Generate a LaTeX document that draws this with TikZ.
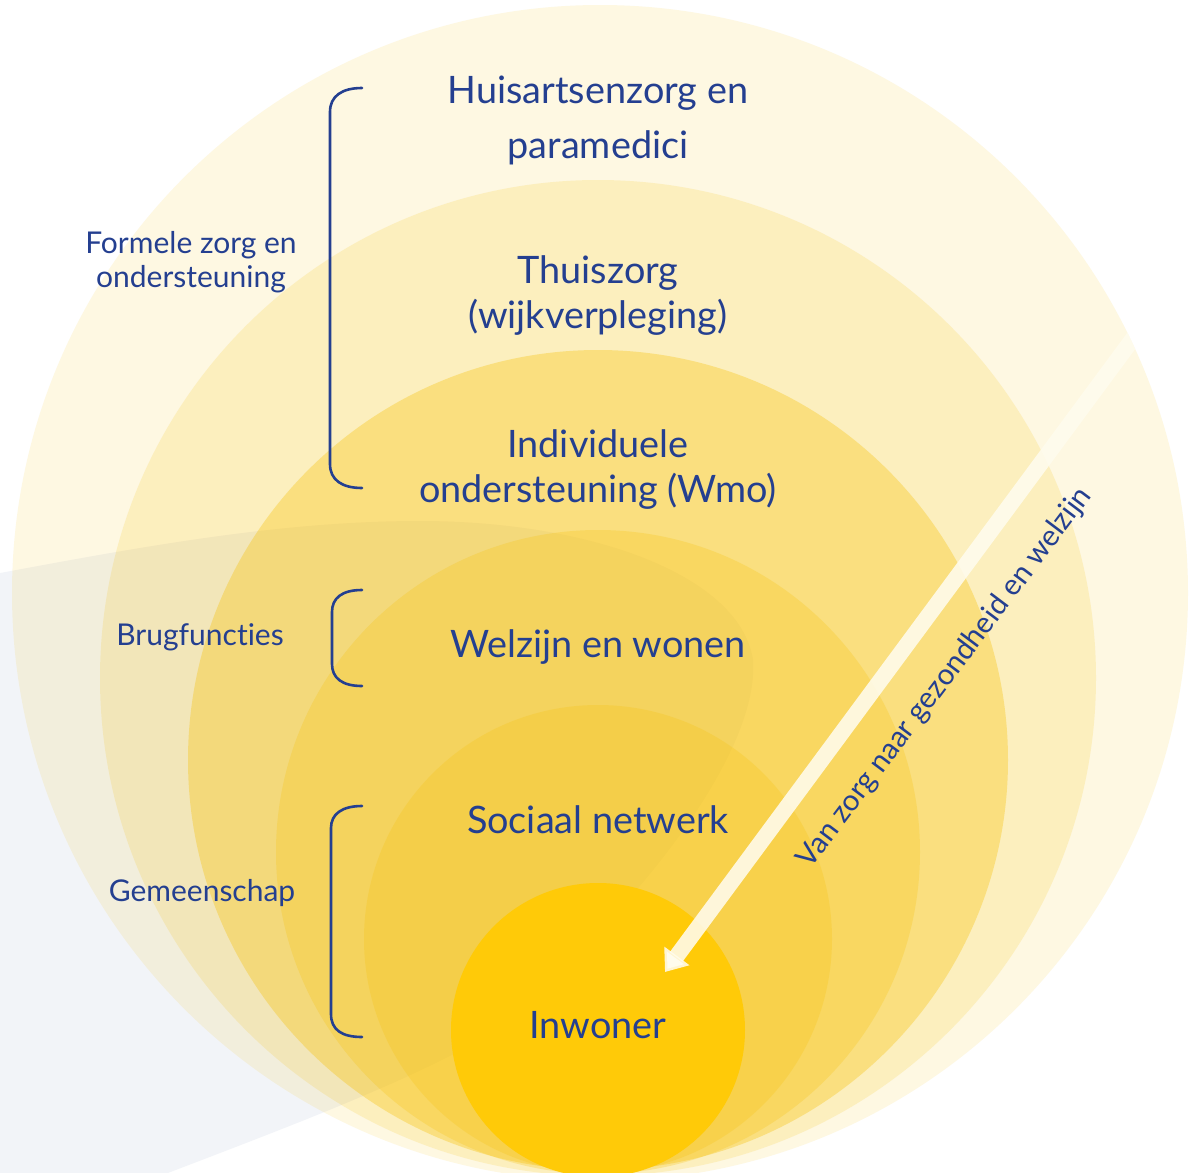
\documentclass[tikz,border=0pt]{standalone}
\usepackage{fontspec}
\setmainfont{Lato}[Ligatures={NoCommon,NoRequired,NoContextual}]
\usetikzlibrary{arrows.meta}
\definecolor{txt}{HTML}{243F90}
\definecolor{yel}{RGB}{247,194,8}
\definecolor{cF}{HTML}{FFCA08}
\definecolor{greyc}{HTML}{F2F4F8}
\definecolor{stripe}{HTML}{FFFCEE}
\tikzset{
  maintext/.style={text=txt, font=\fontsize{18.9}{23}\selectfont, anchor=base, inner sep=0pt},
  sidetext/.style={text=txt, font=\fontsize{15}{18}\selectfont, anchor=base, inner sep=0pt},
  bracket/.style={draw=txt, line width=1.3pt, line cap=round},
  ring/.style={fill=yel, fill opacity=#1},
  flowarrow/.style={draw=stripe, draw opacity=0.88, line width=8pt, -{Triangle[length=10pt,width=15pt]}}
}
\begin{document}
\begin{tikzpicture}[x=0.5pt,y=-0.5pt]
\useasboundingbox (0,0) rectangle (1190,1173);
\clip (0,0) rectangle (1190,1173);
\fill[white] (0,0) rectangle (1190,1173);
% grey background shape
\path[fill=greyc] (-5,574) .. controls (140,547) and (280,521) .. (420,521)
  .. controls (590,521) and (740,575) .. (753,660)
  .. controls (760,760) and (620,930) .. (480,1040)
  .. controls (400,1085) and (280,1130) .. (160,1176) -- (-5,1176) -- cycle;
% circles
\fill[ring=0.113] (600,593) circle[radius=588];
\fill[ring=0.164] (598,678) circle[radius=498];
\fill[ring=0.344] (598,760) circle[radius=410];
\fill[ring=0.25] (598,852) circle[radius=322];
\fill[ring=0.244] (598,939) circle[radius=234];
\fill[cF] (598,1030) circle[radius=147];
% arrow
\coordinate (arrS) at (1160,302);
\coordinate (arrE) at (665,972);
\begin{scope}
\clip (600,593) circle[radius=588];
\draw[flowarrow] (arrS) -- (arrE);
\end{scope}
\node[sidetext, anchor=center, rotate=53] (flow) at (945,678) {\fontsize{14.7}{18}\selectfont Van zorg naar gezondheid en welzijn};
% main texts
\node[maintext] (h1) at (598,103) {Huisartsenzorg en};
\node[maintext] (h2) at (598,158) {paramedici};
\node[maintext] (t1) at (598,283) {Thuiszorg};
\node[maintext] (t2) at (598,328) {(wijkverpleging)};
\node[maintext] (i1) at (598,457) {Individuele};
\node[maintext] (i2) at (598,502) {ondersteuning (Wmo)};
\node[maintext] (w1) at (598,657) {Welzijn en wonen};
\node[maintext] (s1) at (598,833) {Sociaal netwerk};
\node[maintext] (in) at (598,1038) {Inwoner};
% side labels
\node[sidetext] (f1) at (191,253) {Formele zorg en};
\node[sidetext] (f2) at (191,287) {ondersteuning};
\node[sidetext] (b1) at (200,645) {Brugfuncties};
\node[sidetext] (g1) at (202,901) {Gemeenschap};
% brackets
\draw[bracket] (362,88) .. controls (342,88) and (330,96) .. (330,112) -- (330,464) .. controls (330,480) and (342,488) .. (362,488);
\draw[bracket] (362,590) .. controls (342,590) and (332,598) .. (332,612) -- (332,664) .. controls (332,678) and (342,686) .. (362,686);
\draw[bracket] (362,806) .. controls (342,806) and (331,814) .. (331,828) -- (331,1014) .. controls (331,1030) and (342,1037) .. (362,1037);
\end{tikzpicture}
\end{document}
